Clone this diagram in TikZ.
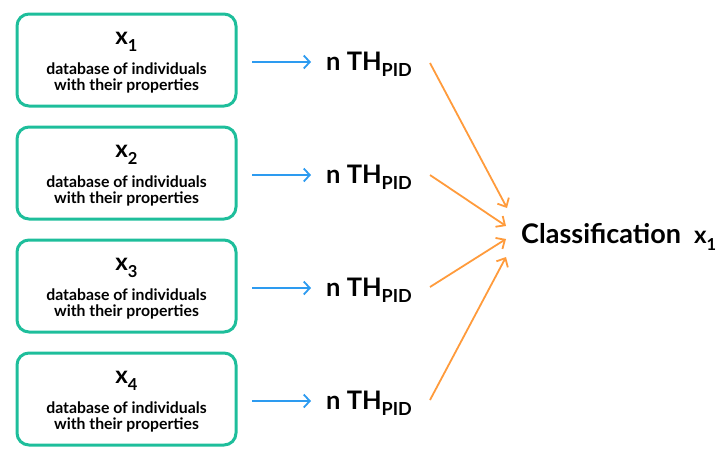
\documentclass[tikz,border=0pt]{standalone}
\usepackage{fontspec}
\setmainfont{Lato}
\usetikzlibrary{arrows.meta}
\definecolor{teal}{RGB}{30,190,155}
\definecolor{arrblue}{RGB}{45,155,240}
\definecolor{arrorange}{RGB}{255,155,60}
\tikzset{
  dbbox/.style={draw=teal, line width=3pt, rounded corners=12pt, minimum width=219pt, minimum height=92pt, inner sep=0pt},
  bigx/.style={anchor=base, inner sep=0pt, font=\fontsize{24}{24}\selectfont\bfseries},
  smalltxt/.style={anchor=base, inner sep=0pt, font=\fontsize{15.8}{15.8}\selectfont\bfseries},
  thtxt/.style={anchor=base west, inner sep=0pt, font=\fontsize{25.5}{25.5}\selectfont\bfseries},
  bluearr/.style={draw=arrblue, line width=1.8pt, -{Straight Barb[length=6pt,width=13pt,line width=1.8pt]}},
  orarr/.style={draw=arrorange, line width=1.8pt, -{Straight Barb[length=7pt,width=13pt,line width=1.8pt]}},
}
\newcommand{\xsub}[1]{x\raisebox{-0.3em}{\fontsize{16.5}{16.5}\selectfont #1}}
\newcommand{\thpid}{n TH\raisebox{-0.25em}{\fontsize{18}{18}\selectfont PID}}
\begin{document}
\begin{tikzpicture}[x=1pt,y=-1pt]
\useasboundingbox (0,0) rectangle (728,464);
\foreach \i/\y in {1/60,2/173,3/286,4/399}{
  \node[dbbox] (b\i) at (126.5,\y) {};
  \node[bigx] (x\i) at (126.5,\y-16) {\xsub{\i}};
  \node[smalltxt] (d\i) at (126.5,\y+14) {database of individuals};
  \node[smalltxt] (w\i) at (126.5,\y+30) {with their properties};
  \coordinate (bs\i) at (252,\y+2);
  \coordinate (be\i) at (311,\y+2);
  \draw[bluearr] (bs\i) -- (be\i);
  \node[thtxt] (t\i) at (326,\y+10) {\thpid};
}
\node[anchor=base west, inner sep=0pt, font=\fontsize{27}{27}\selectfont\bfseries] (cl) at (521,243) {Classification};
\node[anchor=base west, inner sep=0pt, font=\fontsize{24}{24}\selectfont\bfseries] (cx) at (694,243) {\xsub{1}};
\coordinate (o1) at (430,63);
\coordinate (o2) at (430,175);
\coordinate (o3) at (430,287);
\coordinate (o4) at (430,400);
\coordinate (c1) at (507,208);
\coordinate (c2) at (506,226);
\coordinate (c3) at (506,239);
\coordinate (c4) at (506,257);
\foreach \i in {1,2,3,4}{
  \draw[orarr] (o\i) -- (c\i);
}
\end{tikzpicture}
\end{document}
